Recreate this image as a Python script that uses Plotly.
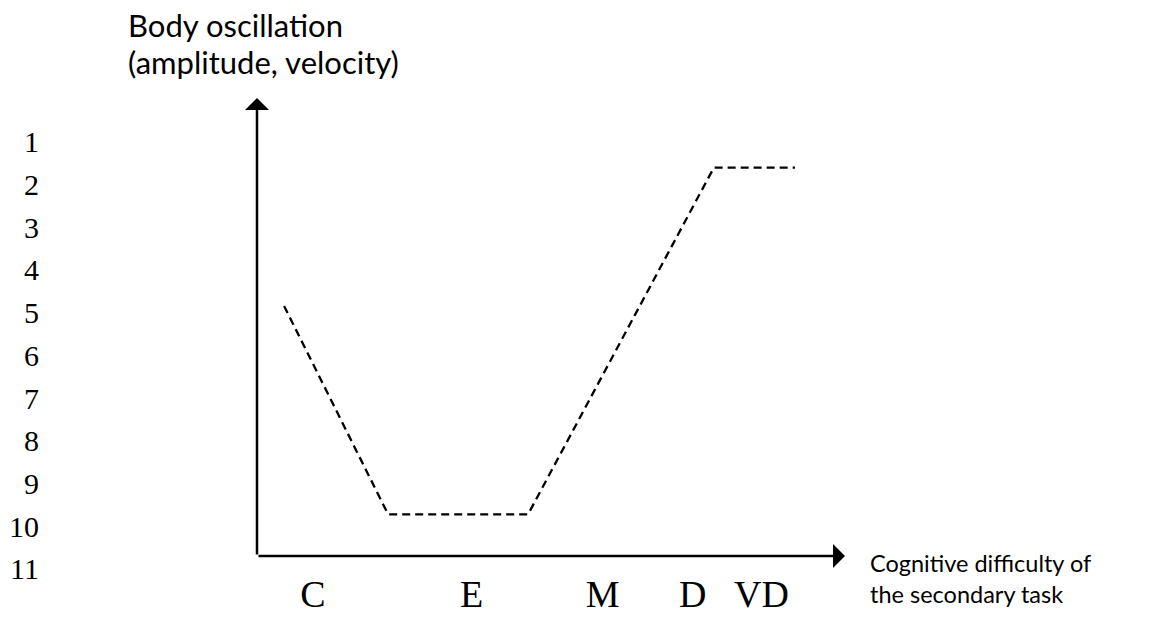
import plotly.graph_objects as go

# Data (abstract units: x 0-10 along difficulty axis, y 0-10 oscillation)
line_x = [0.46, 2.23, 4.61, 7.77, 9.15]
line_y = [5.46, 0.91, 0.91, 8.48, 8.48]

cat_labels = ["C", "E", "M", "D", "VD"]
cat_pos = [0.95, 3.65, 5.88, 7.41, 8.58]

line_numbers = [str(i) for i in range(1, 12)]

OFF = 8  # default page body margin
W, H = 1155 - OFF, 627 - OFF
L, R, T, B = 257, 845, 98, 558  # plot area in window pixels

def px_to_paper_x(p):
    return (p - L) / (R - L)

def px_to_paper_y(p):
    return (B - p) / (B - T)

fig = go.Figure()
fig.add_trace(go.Scatter(
    x=line_x, y=line_y, mode="lines",
    line=dict(color="black", width=2.3, dash="8px,5px"),
    hoverinfo="skip", showlegend=False,
))

annotations = []
# axis arrows
for tip in [(0, 10), (10, 0)]:
    annotations.append(dict(x=tip[0], y=tip[1], ax=0, ay=0, xref="x", yref="y",
                            axref="x", ayref="y", showarrow=True, arrowhead=1,
                            arrowsize=1.6, arrowwidth=2.5, arrowcolor="black", text=""))

# line numbers
for i, t in enumerate(line_numbers):
    yp = 142 + i * 42.9
    annotations.append(dict(x=px_to_paper_x(41), y=px_to_paper_y(yp), xref="paper", yref="paper",
                            text=t, showarrow=False, xanchor="right", yanchor="middle",
                            font=dict(family="Liberation Serif", size=30, color="black")))

yt_font = dict(family="Lato", size=31, color="black")
xt_font = dict(family="Lato", size=23.5, color="black")
for txt, yp in [("Body oscillation", 25), ("(amplitude, velocity)", 62)]:
    annotations.append(dict(x=px_to_paper_x(126), y=px_to_paper_y(yp), xref="paper", yref="paper",
                            text=txt, showarrow=False, xanchor="left", yanchor="middle",
                            font=yt_font))
for txt, yp in [("Cognitive difficulty of", 565), ("the secondary task", 596)]:
    annotations.append(dict(x=px_to_paper_x(868), y=px_to_paper_y(yp), xref="paper", yref="paper",
                            text=txt, showarrow=False, xanchor="left", yanchor="middle",
                            font=xt_font))

fig.update_layout(
    width=W, height=H,
    margin=dict(l=L - OFF, r=(W + OFF) - R, t=T - OFF, b=(H + OFF) - B, pad=0),
    paper_bgcolor="white", plot_bgcolor="white",
    xaxis=dict(range=[0, 10], showgrid=False, zeroline=False, showline=False,
               tickmode="array", tickvals=cat_pos, ticktext=cat_labels, ticks="",
               ticklen=0, ticklabelstandoff=12,
               tickfont=dict(family="Liberation Serif", size=38, color="black"),
               fixedrange=True),
    yaxis=dict(range=[0, 10], showgrid=False, zeroline=False, showline=False,
               showticklabels=False, fixedrange=True),
    annotations=annotations,
    showlegend=False,
)

fig.write_html("out.html")
